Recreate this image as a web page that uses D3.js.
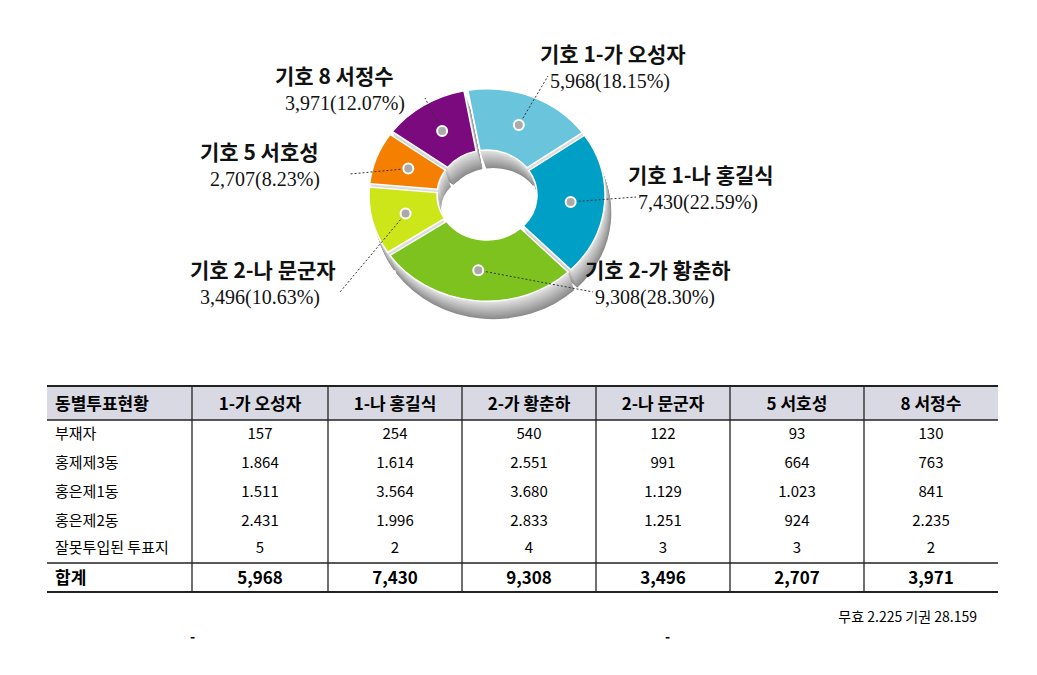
<!DOCTYPE html>
<html><head><meta charset="utf-8">
<script src="https://cdn.jsdelivr.net/npm/d3@7"></script>
<style>body{margin:0;background:#fff}</style>
</head><body>
<script>
const names = ["기호 1-가 오성자","기호 1-나 홍길식","기호 2-가 황춘하","기호 2-나 문군자","기호 5 서호성","기호 8 서정수"];
const votes = [5968, 7430, 9308, 3496, 2707, 3971];
const pcts = ["18.15","22.59","28.30","10.63","8.23","12.07"];
const colors = ["#6ac5dc","#00a0c6","#7dc21e","#cde61a","#f57f00","#7b0a7e"];
const labelPos = [[540,62],[628,183],[585,278],[190,278],[200,160],[275,84]];
const colHeads = ["동별투표현황","1-가 오성자","1-나 홍길식","2-가 황춘하","2-나 문군자","5 서호성","8 서정수"];
const rowHeads = ["부재자","홍제제3동","홍은제1동","홍은제2동","잘못투입된 투표지"];
const rows = [
  ["157","254","540","122","93","130"],
  ["1.864","1.614","2.551","991","664","763"],
  ["1.511","3.564","3.680","1.129","1.023","841"],
  ["2.431","1.996","2.833","1.251","924","2.235"],
  ["5","2","4","3","3","2"]];
const totals = ["5,968","7,430","9,308","3,496","2,707","3,971"];
const footer = "무효 2.225  기권 28.159";

const svg = d3.select("body").append("svg").attr("width",1037).attr("height",675)
  .style("font-family","'Noto Sans CJK KR','Noto Sans',sans-serif");

const pie = d3.pie().sort(null).startAngle(-0.18).endAngle(2*Math.PI-0.18).padAngle(0.03);
const arcs = pie(votes);
const arc = d3.arc().innerRadius(50).outerRadius(118);
const cx = 487, cy = 195, sy = 0.9;

// 3D side: stacked grey copies
const side = svg.append("g");
for (let d = 18; d > 0; d -= 1) {
  side.append("g").attr("transform",`translate(${cx+d*0.35},${cy+d}) scale(1,${sy})`)
    .selectAll("path").data(arcs).enter().append("path")
    .attr("d",arc).attr("fill", d3.interpolateRgb("#e8e8e8","#8c8c8c")(d/18));
}
svg.append("ellipse").attr("cx",cx-8).attr("cy",cy+14).attr("rx",38).attr("ry",33).attr("fill","#fff");
const face = svg.append("g").attr("transform",`translate(${cx},${cy}) scale(1,${sy})`);
face.selectAll("path").data(arcs).enter().append("path")
  .attr("d",arc).attr("fill",(d,i)=>colors[i]).attr("stroke","#fff").attr("stroke-width",1.5);

// leader lines, dots, labels
arcs.forEach((a,i)=>{
  const c = arc.centroid(a);
  const px = cx + c[0], py = cy + c[1]*sy;
  const [lx,ly] = labelPos[i];
  const right = lx > cx;
  const ex = right ? lx+8 : lx+150, ey = ly+14;
  svg.append("path").attr("d",`M${px},${py} L${ex},${ey}`).attr("stroke","#333")
    .attr("stroke-dasharray","2,2").attr("fill","none");
  svg.append("circle").attr("cx",px).attr("cy",py).attr("r",5).attr("fill","#aaa").attr("stroke","#fff").attr("stroke-width",2);
  svg.append("text").attr("x",lx).attr("y",ly)
    .attr("font-size",21).attr("font-weight","bold").attr("fill","#111").text(names[i]);
  svg.append("text").attr("x", lx+10).attr("y",ly+26)
    .attr("font-size",20).attr("font-family","'Liberation Serif',serif").attr("fill","#111")
    .text(d3.format(",")(votes[i])+"("+pcts[i]+"%)");
});

// table
const colX = [47,192,328,462,596,730,864,998];
const rowY = [386,420,448,477,506,534,563,592];
const t = svg.append("g");
t.append("rect").attr("x",colX[0]).attr("y",rowY[0]).attr("width",colX[7]-colX[0]).attr("height",rowY[1]-rowY[0]).attr("fill","#d9d9e3");
[[0,2],[1,1.5],[6,1.5],[7,2]].forEach(([r,w])=>t.append("line").attr("x1",colX[0]).attr("x2",colX[7]).attr("y1",rowY[r]).attr("y2",rowY[r]).attr("stroke","#222").attr("stroke-width",w));
colX.slice(1,7).forEach(x=>t.append("line").attr("x1",x).attr("x2",x).attr("y1",rowY[0]).attr("y2",rowY[7]).attr("stroke","#222").attr("stroke-width",1.3));
const mid = i => (colX[i]+colX[i+1])/2;
colHeads.forEach((h,i)=>t.append("text").attr("x", i===0?colX[0]+8:mid(i)).attr("y",410)
  .attr("text-anchor",i===0?"start":"middle").attr("font-size",17).attr("font-weight","bold").text(h));
rows.forEach((r,ri)=>{
  const yy = [439,468,497,526,553][ri];
  t.append("text").attr("x",colX[0]+8).attr("y",yy).attr("font-size",15).text(rowHeads[ri]);
  r.forEach((v,ci)=>t.append("text").attr("x",mid(ci+1)).attr("y",yy).attr("text-anchor","middle").attr("font-size",15).text(v));
});
t.append("text").attr("x",colX[0]+8).attr("y",584).attr("font-size",17).attr("font-weight","bold").text("합계");
totals.forEach((v,ci)=>t.append("text").attr("x",mid(ci+1)).attr("y",584).attr("text-anchor","middle").attr("font-size",17).attr("font-weight","bold").text(v));
svg.append("text").attr("x",977).attr("y",622).attr("text-anchor","end").attr("font-size",14).text(footer);
[190,665].forEach(x=>svg.append("text").attr("x",x).attr("y",642).attr("font-size",14).attr("font-weight","bold").text("-"));
</script>
</body></html>
